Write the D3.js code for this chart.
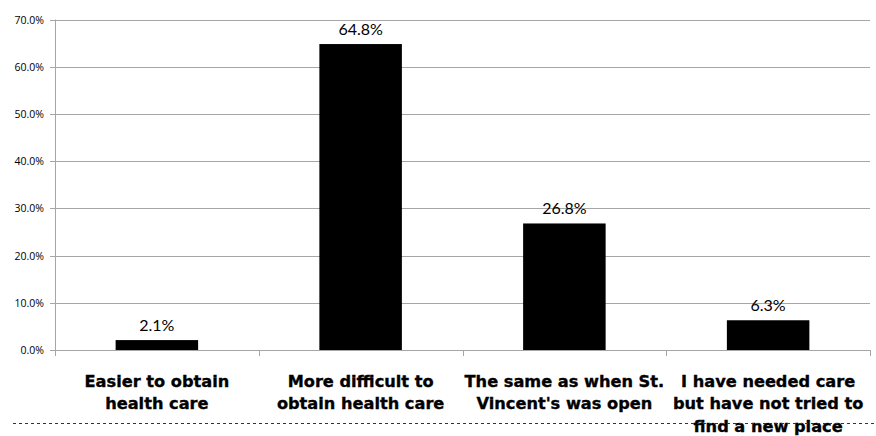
<!DOCTYPE html>
<html>
<head>
<meta charset="utf-8">
<script src="https://cdn.jsdelivr.net/npm/d3@7"></script>
<style>
  html, body { margin: 0; padding: 0; background: #fff; }
  svg { display: block; }
</style>
</head>
<body>
<svg id="chart" width="876" height="436"></svg>
<script>
// Survey responses: how access to care changed after St. Vincent's closed
const categories = [
  ["Easier to obtain", "health care"],
  ["More difficult to", "obtain health care"],
  ["The same as when St.", "Vincent's was open"],
  ["I have needed care", "but have not tried to", "find a new place"]
];
const values = [2.1, 64.8, 26.8, 6.3];
const yTicks = [0, 10, 20, 30, 40, 50, 60, 70];

const svg = d3.select("#chart");
const margin = { left: 55, right: 6, top: 19.5 };
const W = 876;
const plotBottom = 350;

const x = d3.scaleBand()
  .domain(d3.range(values.length))
  .range([margin.left, W - margin.right])
  .paddingInner(0).paddingOuter(0);

const y = d3.scaleLinear().domain([0, 70]).range([plotBottom, margin.top]);

const gridColor = "#a6a6a6";

// Horizontal gridlines
svg.append("g")
  .selectAll("line")
  .data(yTicks)
  .join("line")
  .attr("x1", margin.left - 5)
  .attr("x2", W - margin.right)
  .attr("y1", d => Math.round(y(d)) + 0.5)
  .attr("y2", d => Math.round(y(d)) + 0.5)
  .attr("stroke", gridColor)
  .attr("stroke-width", 1);

// Y axis labels
svg.append("g")
  .selectAll("text")
  .data(yTicks)
  .join("text")
  .attr("x", margin.left - 11)
  .attr("y", d => y(d) + 4)
  .attr("text-anchor", "end")
  .attr("font-family", "'Open Sans', sans-serif")
  .attr("font-size", 10.5)
  .attr("fill", "#000")
  .text(d => d3.format(".1f")(d) + "%");

// Y axis line
svg.append("line")
  .attr("x1", margin.left + 0.5).attr("x2", margin.left + 0.5)
  .attr("y1", y(70)).attr("y2", plotBottom + 5)
  .attr("stroke", gridColor);

// Category separator ticks below the baseline
const bounds = d3.range(values.length + 1).map(i =>
  i < values.length ? x(i) : x(values.length - 1) + x.bandwidth());
svg.append("g")
  .selectAll("line")
  .data(bounds)
  .join("line")
  .attr("x1", d => Math.round(d) + 0.5)
  .attr("x2", d => Math.round(d) + 0.5)
  .attr("y1", plotBottom)
  .attr("y2", plotBottom + 6)
  .attr("stroke", gridColor);

// Bars
const barW = x.bandwidth() * 0.405;
svg.append("g")
  .selectAll("rect")
  .data(values)
  .join("rect")
  .attr("x", (d, i) => x(i) + (x.bandwidth() - barW) / 2)
  .attr("y", d => y(d))
  .attr("width", barW)
  .attr("height", d => plotBottom - y(d))
  .attr("fill", "#000");

// Value labels
svg.append("g")
  .selectAll("text")
  .data(values)
  .join("text")
  .attr("x", (d, i) => x(i) + x.bandwidth() / 2)
  .attr("y", d => y(d) - 9)
  .attr("text-anchor", "middle")
  .attr("font-family", "Lato, 'Open Sans', sans-serif")
  .attr("font-size", 16)
  .attr("fill", "#000")
  .text(d => d3.format(".1f")(d) + "%");

// Category labels
const catG = svg.append("g")
  .selectAll("text")
  .data(categories)
  .join("text")
  .attr("x", (d, i) => x(i) + x.bandwidth() / 2)
  .attr("y", 386.7)
  .attr("text-anchor", "middle")
  .attr("font-family", "'DejaVu Sans', sans-serif")
  .attr("font-weight", "bold")
  .attr("font-size", 16.2)
  .attr("fill", "#000")
  .attr("stroke", "#000")
  .attr("stroke-width", 0.35);
catG.selectAll("tspan")
  .data((d, i) => d.map(line => ({ line, i })))
  .join("tspan")
  .attr("x", d => x(d.i) + x.bandwidth() / 2)
  .attr("dy", (d, j) => j === 0 ? 0 : 22.5)
  .text(d => d.line);

// Dashed rule near the bottom, drawn over the labels
svg.append("line")
  .attr("x1", 13).attr("x2", W)
  .attr("y1", 423.5).attr("y2", 423.5)
  .attr("stroke", "#333")
  .attr("stroke-width", 1)
  .attr("stroke-dasharray", "3,3");
</script>
</body>
</html>
